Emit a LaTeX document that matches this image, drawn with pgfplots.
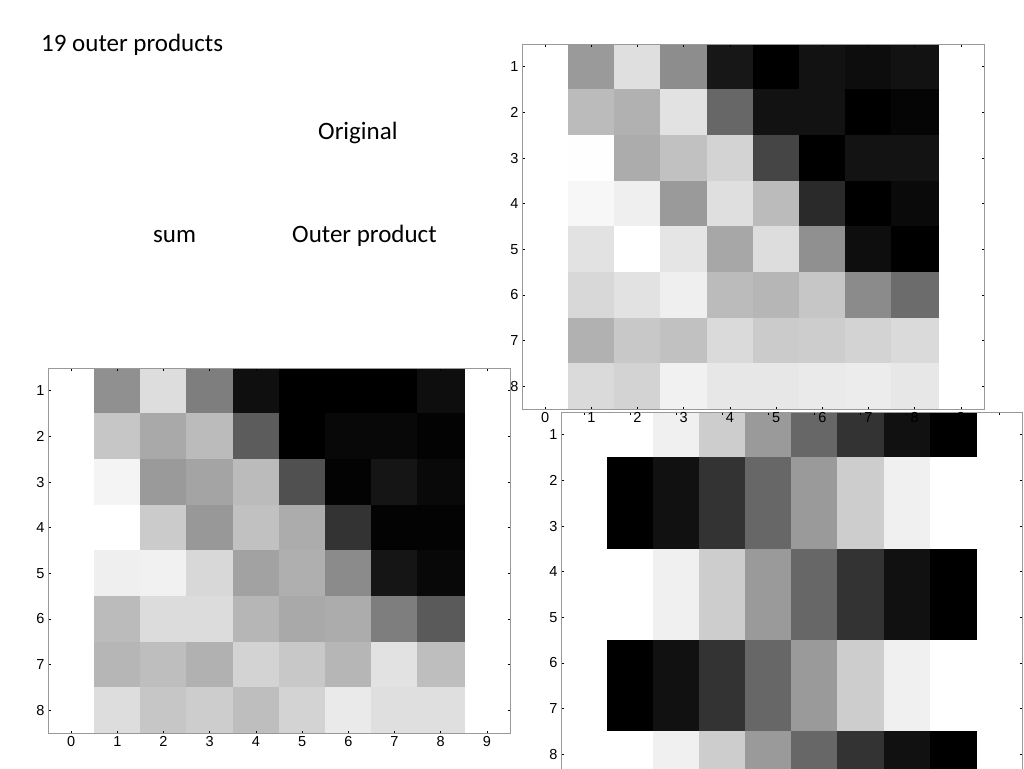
\documentclass[border=0pt]{standalone}
\usepackage{fontspec}
\usepackage{pgfplots}
\pgfplotsset{compat=1.18}
\setmainfont{Carlito}
\newfontfamily\arialfont{Liberation Sans}
\pgfplotsset{
  imgaxis/.style={
    scale only axis,
    width=461pt, height=365pt,
    xmin=-0.5, xmax=9.5, ymin=0.5, ymax=8.5,
    y dir=reverse,
    xtick={0,1,2,3,4,5,6,7,8,9},
    ytick={1,2,3,4,5,6,7,8},
    tick align=inside,
    major tick length=2.5pt,
    major tick style={black, line width=0.8pt},
    axis line style={draw=black!40, line width=0.7pt},
    /pgf/number format/assume math mode=true,
    tick label style={font=\arialfont\fontsize{14.5}{15}\selectfont},
    colormap={bw}{gray(0cm)=(0); gray(1cm)=(1)},
    point meta min=0, point meta max=1,
    axis on top,
  },
}
\begin{document}
\begin{tikzpicture}
\path[use as bounding box] (0,0) rectangle (1024pt,-768pt);
\fill[white] (0,0) rectangle (1024pt,-768pt);
\clip (0,0) rectangle (1024pt,-768pt);

\node[anchor=base west, inner sep=0pt, font=\fontsize{25}{30}\selectfont] at (41pt,-52pt) {19 outer products};
\node[anchor=base west, inner sep=0pt, font=\fontsize{25}{30}\selectfont] at (318pt,-139pt) {Original};
\node[anchor=base west, inner sep=0pt, font=\fontsize{25}{30}\selectfont] at (153pt,-242pt) {sum};
\node[anchor=base west, inner sep=0pt, font=\fontsize{25}{30}\selectfont] at (292pt,-242pt) {Outer product};

% Outer product (bottom right); its x tick labels fall below the page
\begin{axis}[imgaxis, at={(561pt,-412pt)}, anchor=north west, xticklabels={}]
\addplot[matrix plot*, mesh/cols=8, point meta=explicit] table[meta index=2] {
x y c
1 1 1.0
2 1 0.933
3 1 0.8
4 1 0.6
5 1 0.4
6 1 0.2
7 1 0.067
8 1 0.0
1 2 0.0
2 2 0.067
3 2 0.2
4 2 0.4
5 2 0.6
6 2 0.8
7 2 0.933
8 2 1.0
1 3 0.0
2 3 0.067
3 3 0.2
4 3 0.4
5 3 0.6
6 3 0.8
7 3 0.933
8 3 1.0
1 4 1.0
2 4 0.933
3 4 0.8
4 4 0.6
5 4 0.4
6 4 0.2
7 4 0.067
8 4 0.0
1 5 1.0
2 5 0.933
3 5 0.8
4 5 0.6
5 5 0.4
6 5 0.2
7 5 0.067
8 5 0.0
1 6 0.0
2 6 0.067
3 6 0.2
4 6 0.4
5 6 0.6
6 6 0.8
7 6 0.933
8 6 1.0
1 7 0.0
2 7 0.067
3 7 0.2
4 7 0.4
5 7 0.6
6 7 0.8
7 7 0.933
8 7 1.0
1 8 1.0
2 8 0.933
3 8 0.8
4 8 0.6
5 8 0.4
6 8 0.2
7 8 0.067
8 8 0.0
};
\end{axis}

% Original (top right)
\begin{axis}[imgaxis, at={(522pt,-44pt)}, anchor=north west, width=462pt, height=365pt]
\addplot[matrix plot*, mesh/cols=8, point meta=explicit] table[meta index=2] {
x y c
1 1 0.60
2 1 0.87
3 1 0.55
4 1 0.09
5 1 0.00
6 1 0.07
7 1 0.05
8 1 0.07
1 2 0.73
2 2 0.69
3 2 0.88
4 2 0.40
5 2 0.07
6 2 0.07
7 2 0.00
8 2 0.02
1 3 0.99
2 3 0.67
3 3 0.75
4 3 0.82
5 3 0.27
6 3 0.00
7 3 0.075
8 3 0.075
1 4 0.96
2 4 0.93
3 4 0.60
4 4 0.87
5 4 0.73
6 4 0.165
7 4 0.00
8 4 0.04
1 5 0.88
2 5 1.00
3 5 0.89
4 5 0.65
5 5 0.86
6 5 0.56
7 5 0.055
8 5 0.00
1 6 0.84
2 6 0.88
3 6 0.93
4 6 0.73
5 6 0.71
6 6 0.77
7 6 0.54
8 6 0.42
1 7 0.69
2 7 0.78
3 7 0.75
4 7 0.85
5 7 0.79
6 7 0.80
7 7 0.82
8 7 0.85
1 8 0.85
2 8 0.82
3 8 0.94
4 8 0.90
5 8 0.90
6 8 0.91
7 8 0.92
8 8 0.90
};
\end{axis}

% Sum (bottom left)
\begin{axis}[imgaxis, at={(48pt,-368pt)}, anchor=north west, width=462pt, height=365pt]
\addplot[matrix plot*, mesh/cols=8, point meta=explicit] table[meta index=2] {
x y c
1 1 0.56
2 1 0.86
3 1 0.49
4 1 0.06
5 1 0.00
6 1 0.00
7 1 0.00
8 1 0.055
1 2 0.77
2 2 0.66
3 2 0.73
4 2 0.36
5 2 0.00
6 2 0.03
7 2 0.03
8 2 0.01
1 3 0.95
2 3 0.60
3 3 0.64
4 3 0.73
5 3 0.31
6 3 0.01
7 3 0.08
8 3 0.035
1 4 1.00
2 4 0.79
3 4 0.59
4 4 0.75
5 4 0.67
6 4 0.20
7 4 0.01
8 4 0.01
1 5 0.93
2 5 0.94
3 5 0.84
4 5 0.63
5 5 0.68
6 5 0.54
7 5 0.08
8 5 0.03
1 6 0.73
2 6 0.855
3 6 0.855
4 6 0.71
5 6 0.66
6 6 0.67
7 6 0.49
8 6 0.35
1 7 0.71
2 7 0.74
3 7 0.69
4 7 0.82
5 7 0.78
6 7 0.71
7 7 0.88
8 7 0.74
1 8 0.86
2 8 0.77
3 8 0.80
4 8 0.74
5 8 0.82
6 8 0.91
7 8 0.87
8 8 0.87
};
\end{axis}
\end{tikzpicture}
\end{document}
